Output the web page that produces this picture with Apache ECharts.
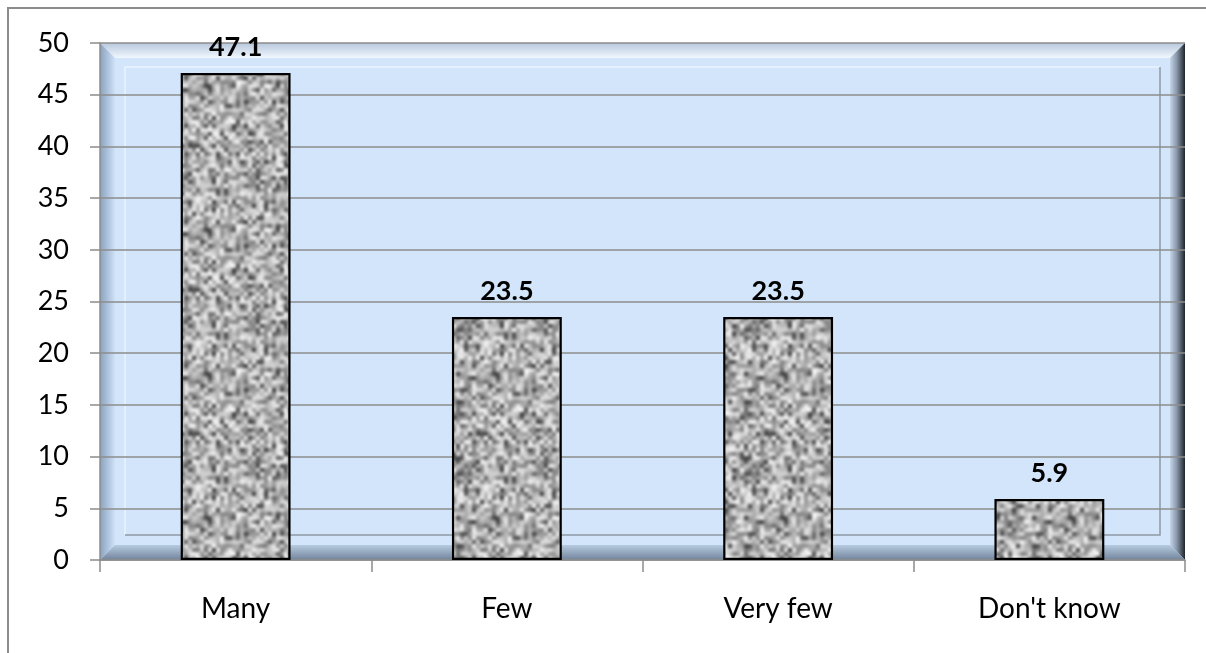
<!DOCTYPE html>
<html><head><meta charset="utf-8">
<script src="https://cdn.jsdelivr.net/npm/echarts@6/dist/echarts.min.js"></script>
<style>html,body{margin:0;padding:0;background:#fff}#c{width:1206px;height:653px}</style>
</head><body><div id="c"></div>
<script>
var categories = ['Many', 'Few', 'Very few', "Don't know"];
var values = [47.1, 23.5, 23.5, 5.9];
var yTicks = [0, 50, 5];

// decorative seamless noise texture for bars (style only)
function makeTexture() {
  var n = 36, k = 4;
  var small = document.createElement('canvas');
  small.width = n; small.height = n;
  var sctx = small.getContext('2d');
  var img = sctx.createImageData(n, n);
  var s = 98765;
  function rnd() { s = (s * 1103515245 + 12345) & 0x7fffffff; return s / 0x7fffffff; }
  for (var i = 0; i < n * n; i++) {
    var r = rnd();
    var v = r < 0.15 ? 70 + Math.floor(rnd() * 50) : 130 + Math.floor(rnd() * 110);
    img.data[i * 4] = v; img.data[i * 4 + 1] = v; img.data[i * 4 + 2] = v; img.data[i * 4 + 3] = 255;
  }
  sctx.putImageData(img, 0, 0);
  // tile 3x3 so smoothing wraps around
  var tiled = document.createElement('canvas');
  tiled.width = n * 3; tiled.height = n * 3;
  var tctx = tiled.getContext('2d');
  for (var a = 0; a < 3; a++) for (var b = 0; b < 3; b++) tctx.drawImage(small, a * n, b * n);
  var big = document.createElement('canvas');
  big.width = n * 3 * k; big.height = n * 3 * k;
  var bctx = big.getContext('2d');
  bctx.imageSmoothingEnabled = true;
  bctx.imageSmoothingQuality = 'high';
  bctx.drawImage(tiled, 0, 0, n * 3 * k, n * 3 * k);
  var c = document.createElement('canvas');
  c.width = n * k; c.height = n * k;
  c.getContext('2d').drawImage(big, n * k, n * k, n * k, n * k, 0, 0, n * k, n * k);
  return c;
}
var tex = makeTexture();
var FONT = 'Lato, "Open Sans", sans-serif';

var chart = echarts.init(document.getElementById('c'));
var option = {
  animation: false,
  backgroundColor: '#ffffff',
  grid: { left: 100, right: 21, top: 43, bottom: 93, containLabel: false },
  xAxis: {
    type: 'category', data: categories, boundaryGap: true,
    axisLine: { show: true, lineStyle: { color: '#8c8c8c', width: 1.5 } },
    axisTick: { show: true, length: 12, lineStyle: { color: '#8c8c8c', width: 1.5 } },
    axisLabel: { color: '#000', fontSize: 28, fontFamily: FONT, margin: 35 },
    splitLine: { show: false }
  },
  yAxis: {
    type: 'value', min: yTicks[0], max: yTicks[1], interval: yTicks[2],
    axisLine: { show: true, lineStyle: { color: '#8c8c8c', width: 1.5 } },
    axisTick: { show: true, inside: false, length: 10, lineStyle: { color: '#8c8c8c', width: 1.5 } },
    axisLabel: { color: '#000', fontSize: 27, fontFamily: FONT, margin: 31 },
    splitLine: { show: true, lineStyle: { color: '#8c8c8c', width: 1.5 } }
  },
  series: [{
    type: 'bar', data: values, barWidth: '40.5%', z: 5,
    itemStyle: { color: { image: tex, repeat: 'repeat' }, borderColor: '#000', borderWidth: 2.2 },
    label: { show: true, position: 'top', distance: 12, color: '#000', fontSize: 27, fontWeight: 'bold', fontFamily: FONT, formatter: function (p) { return p.value.toFixed(1); } }
  }]
};
chart.setOption(option);

function drawFrame() {
  var rect = chart.getModel().getComponent('grid', 0).coordinateSystem.getRect();
  var L = rect.x, T = rect.y, R = rect.x + rect.width, B = rect.y + rect.height;
  var bw = 15;
  var gap = 10;
  var els = [];
  els.push({ type: 'rect', z: -20, shape: { x: 8, y: 8, width: 1220, height: 680 }, style: { fill: null, stroke: '#8c8c8c', lineWidth: 2 } });
  els.push({ type: 'rect', z: -15, shape: { x: L, y: T, width: R - L, height: B - T }, style: { fill: '#d3e5fb' } });
  els.push({ type: 'polygon', z: -14, shape: { points: [[L, T], [R, T], [R - bw, T + bw], [L + bw, T + bw]] },
    style: { fill: new echarts.graphic.LinearGradient(0, 0, 0, 1, [{ offset: 0, color: '#b8c8dc' }, { offset: 1, color: '#f0f7ff' }]) } });
  els.push({ type: 'polygon', z: -14, shape: { points: [[L, T], [L + bw, T + bw], [L + bw, B - bw], [L, B]] },
    style: { fill: new echarts.graphic.LinearGradient(0, 0, 1, 0, [{ offset: 0, color: '#8aa2c0' }, { offset: 1, color: '#cfe1f6' }]) } });
  els.push({ type: 'polygon', z: -14, shape: { points: [[R, T], [R, B], [R - bw, B - bw], [R - bw, T + bw]] },
    style: { fill: new echarts.graphic.LinearGradient(0, 0, 1, 0, [{ offset: 0, color: '#c6d6e8' }, { offset: 0.45, color: '#8898aa' }, { offset: 1, color: '#1e242c' }]) } });
  els.push({ type: 'polygon', z: -14, shape: { points: [[L, B], [L + bw, B - bw], [R - bw, B - bw], [R, B]] },
    style: { fill: new echarts.graphic.LinearGradient(0, 0, 0, 1, [{ offset: 0, color: '#b6cae0' }, { offset: 1, color: '#71849b' }]) } });
  var iL = L + bw + gap, iT = T + bw + gap - 1, iR = R - bw - gap, iB = B - bw - gap;
  els.push({ type: 'polyline', z: -13, shape: { points: [[iL, iB], [iL, iT], [iR, iT]] }, style: { stroke: '#eaf4ff', lineWidth: 1.5, fill: null } });
  els.push({ type: 'polyline', z: -13, shape: { points: [[iR, iT], [iR, iB], [iL, iB]] }, style: { stroke: '#8f9aa6', lineWidth: 1.5, fill: null } });
  chart.setOption({ graphic: { elements: els } });
}
drawFrame();
</script>
</body></html>
